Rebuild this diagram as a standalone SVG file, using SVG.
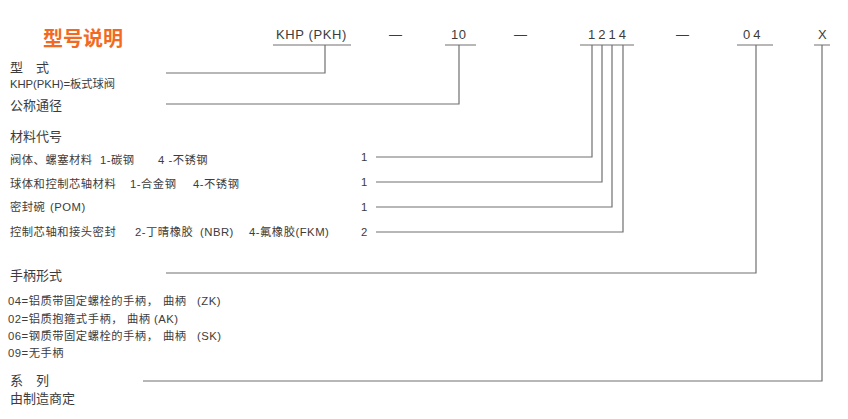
<svg xmlns="http://www.w3.org/2000/svg" width="848" height="419" viewBox="0 0 848 419">
<style>
text{font-family:"Liberation Sans","Noto Sans CJK SC",sans-serif;fill:#3c3c3c}
.h{font-size:13px}
.s{font-size:11.3px;letter-spacing:0.5px}
.c{font-size:13px;letter-spacing:0.6px}
.w{letter-spacing:3px}
.t{font-size:20px;font-weight:bold;fill:#f26a21}
.ln{fill:none;stroke:#707070;stroke-width:1.2}
</style>
<rect width="848" height="419" fill="#fff"/>
<g id="title"><text class="t" x="43" y="46">型号说明</text></g>
<g id="code">
<text class="c" x="276" y="39">KHP (PKH)</text>
<text class="c" x="389" y="39">—</text>
<text class="c" x="451" y="39">10</text>
<text class="c" x="514" y="39">—</text>
<text class="c w" x="588" y="39">1214</text>
<text class="c" x="676" y="39">—</text>
<text class="c w" x="743" y="39">04</text>
<text class="c" x="818" y="39">X</text>
</g>
<g id="n-type">
<text class="h" x="10" y="72">型　式</text>
<text class="s" x="10" y="88" style="letter-spacing:0" textLength="105">KHP(PKH)=板式球阀</text>
</g>
<g id="n-dn"><text class="h" x="10" y="110">公称通径</text></g>
<g id="n-mat">
<text class="h" x="10" y="141">材料代号</text>
<text class="s" y="164"><tspan x="10">阀体、螺塞材料</tspan><tspan x="100">1-碳钢</tspan><tspan x="158">4 -不锈钢</tspan></text>
<text class="s" y="188"><tspan x="10">球体和控制芯轴材料</tspan><tspan x="130">1-合金钢</tspan><tspan x="193">4-不锈钢</tspan></text>
<text class="s" y="211"><tspan x="10">密封碗</tspan><tspan x="50">(POM)</tspan></text>
<text class="s" y="236"><tspan x="10">控制芯轴和接头密封</tspan><tspan x="135">2-丁晴橡胶</tspan><tspan x="200">(NBR)</tspan><tspan x="249">4-氟橡胶(FKM)</tspan></text>
<text class="s" x="361" y="161">1</text>
<text class="s" x="361" y="186">1</text>
<text class="s" x="361" y="211">1</text>
<text class="s" x="361" y="236">2</text>
</g>
<g id="n-handle">
<text class="h" x="10" y="280">手柄形式</text>
<text class="s" y="305"><tspan x="8">04=铝质带固定螺栓的手柄，</tspan><tspan x="163">曲柄</tspan><tspan x="197">(ZK)</tspan></text>
<text class="s" y="323"><tspan x="8">02=铝质抱箍式手柄，</tspan><tspan x="127">曲柄</tspan><tspan x="154">(AK)</tspan></text>
<text class="s" y="340"><tspan x="8">06=钢质带固定螺栓的手柄，</tspan><tspan x="163">曲柄</tspan><tspan x="197">(SK)</tspan></text>
<text class="s" x="8" y="357">09=无手柄</text>
</g>
<g id="n-series">
<text class="h" x="10" y="385">系　列</text>
<text class="h" x="10" y="403">由制造商定</text>
</g>
<g id="connectors">
<path class="ln" d="M273 45H351M445 45H476M580 45H634M737 45H773M814 45H830"/>
<path class="ln" d="M325 45V73H166"/>
<path class="ln" d="M459 45V104H166"/>
<path class="ln" d="M592 45V157H376"/>
<path class="ln" d="M602 45V182H376"/>
<path class="ln" d="M612 45V207H376"/>
<path class="ln" d="M623 45V232H376"/>
<path class="ln" d="M756 45V273H166"/>
<path class="ln" d="M822 45V381H143"/>
</g>
</svg>
